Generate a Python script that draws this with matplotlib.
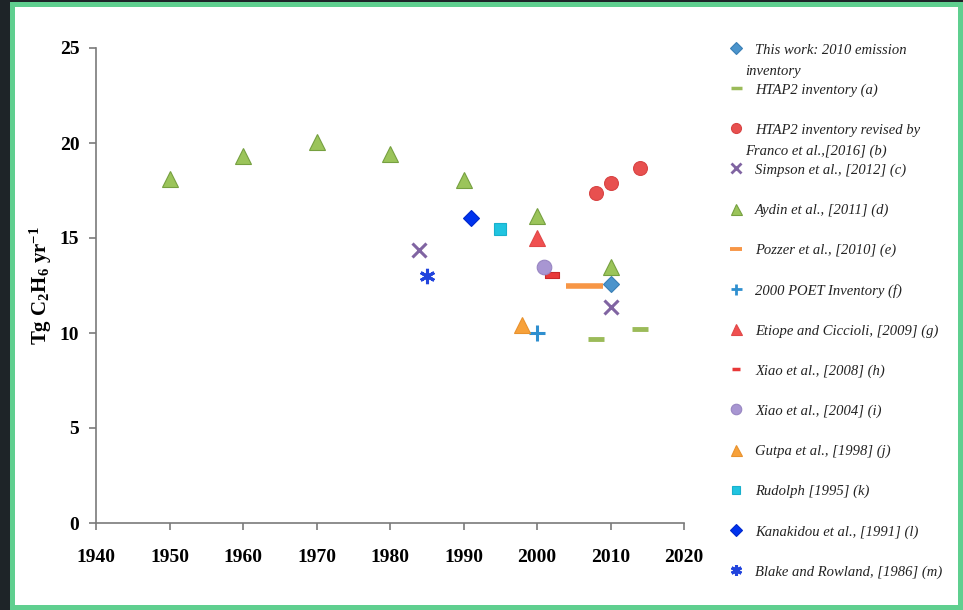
import matplotlib
matplotlib.use("Agg")
import matplotlib.pyplot as plt
from matplotlib.patches import Rectangle

plt.rcParams["font.family"] = "Liberation Serif"
plt.rcParams["mathtext.default"] = "regular"

# Ethane emission estimates, Tg C2H6 per year
aydin_yr = [1950, 1960, 1970, 1980, 1990, 2000, 2010]
aydin_val = [18.1, 19.3, 20.05, 19.4, 18.05, 16.15, 13.5]
htap2_yr = [2008, 2014]
htap2_val = [9.7, 10.2]
franco_yr = [2008, 2010, 2014]
franco_val = [17.35, 17.9, 18.7]
simpson_yr = [1984, 2010]
simpson_val = [14.35, 11.35]
pozzer_yr = [2004, 2009]
pozzer_val = [12.5, 12.5]
poet_yr = [2000]
poet_val = [10.0]
etiope_yr = [2000]
etiope_val = [15.0]
xiao08_yr = [2002]
xiao08_val = [13.05]
xiao04_yr = [2001]
xiao04_val = [13.5]
gupta_yr = [1998]
gupta_val = [10.4]
rudolph_yr = [1995]
rudolph_val = [15.5]
kanakidou_yr = [1991]
kanakidou_val = [16.05]
blake_yr = [1985]
blake_val = [13.0]
thiswork_yr = [2010]
thiswork_val = [12.6]

labels = [
    "This work: 2010 emission\ninventory",
    "HTAP2 inventory (a)",
    "HTAP2 inventory revised by\nFranco et al.,[2016] (b)",
    "Simpson et al., [2012] (c)",
    "Aydin et al., [2011] (d)",
    "Pozzer et al., [2010] (e)",
    "2000 POET Inventory (f)",
    "Etiope and Ciccioli, [2009] (g)",
    "Xiao et al., [2008] (h)",
    "Xiao et al., [2004] (i)",
    "Gutpa et al., [1998] (j)",
    "Rudolph [1995] (k)",
    "Kanakidou et al., [1991] (l)",
    "Blake and Rowland, [1986] (m)",
]

W, H = 963, 610
fig = plt.figure(figsize=(W / 100, H / 100), dpi=100)
fig.patch.set_facecolor("#1e2428")

# green card frame with white inside
fig.patches.append(Rectangle((10 / W, 0), 953 / W, 608 / H, transform=fig.transFigure,
                             facecolor="#5fcf8f", edgecolor="none", zorder=-10))
fig.patches.append(Rectangle((15 / W, 5 / H), 943 / W, 598 / H, transform=fig.transFigure,
                             facecolor="white", edgecolor="none", zorder=-9))

ax = fig.add_axes([96 / W, 1 - 523 / H, 588 / W, 475 / H])
ax.set_facecolor("none")

# flat bar marker used for Xiao 2008
bar = [(-1, -0.5), (1, -0.5), (1, 0.5), (-1, 0.5), (-1, -0.5)]

series = [
    (thiswork_yr, thiswork_val, dict(marker="D", ms=8.5, mfc="#4b94cc", mec="#3a7fb5", mew=0.8, ls="none")),
    (htap2_yr, htap2_val, dict(marker="_", ms=11, mec="#9bbb59", mew=3.5, ls="none")),
    (franco_yr, franco_val, dict(marker="o", ms=10, mfc="#e8504f", mec="#d84444", mew=0.8, ls="none")),
    (simpson_yr, simpson_val, dict(marker="x", ms=10, mec="#8064a2", mew=2.2, ls="none")),
    (aydin_yr, aydin_val, dict(marker="^", ms=11, mfc="#9bc45a", mec="#76a040", mew=0.8, ls="none")),
    (pozzer_yr, pozzer_val, dict(color="#f79646", lw=4, solid_capstyle="butt")),
    (poet_yr, poet_val, dict(marker="+", ms=11, mec="#2f8fcf", mew=2.2, ls="none")),
    (etiope_yr, etiope_val, dict(marker="^", ms=11, mfc="#f05050", mec="#e04848", mew=0.8, ls="none")),
    (xiao08_yr, xiao08_val, dict(marker=bar, ms=10, mfc="#e83838", mec="#c82828", mew=0.8, ls="none")),
    (xiao04_yr, xiao04_val, dict(marker="o", ms=10.5, mfc="#a896d2", mec="#9886c2", mew=0.8, ls="none")),
    (gupta_yr, gupta_val, dict(marker="^", ms=11, mfc="#f7a13a", mec="#e8922e", mew=0.8, ls="none")),
    (rudolph_yr, rudolph_val, dict(marker="s", ms=8, mfc="#20c4e0", mec="#18b0cc", mew=0.8, ls="none")),
    (kanakidou_yr, kanakidou_val, dict(marker="D", ms=8.5, mfc="#0033ee", mec="#0028cc", mew=0.8, ls="none")),
    (blake_yr, blake_val, dict(marker=(6, 2, 0), ms=11, mec="#2244dd", mew=2.2, ls="none")),
]

for yr, val, kw in series:
    ax.plot(yr, val, clip_on=False, zorder=3, **kw)

ax.set_xlim(1940, 2020)
ax.set_ylim(0, 25)
ax.set_xticks(range(1940, 2021, 10))
ax.set_yticks(range(0, 26, 5))
for s in ["top", "right"]:
    ax.spines[s].set_visible(False)
for s in ["left", "bottom"]:
    ax.spines[s].set_color("#7a7a7a")
    ax.spines[s].set_linewidth(1.2)
ax.tick_params(direction="out", length=5, width=1.2, color="#7a7a7a", labelsize=14)
ax.tick_params(axis="x", pad=14)
ax.tick_params(axis="y", pad=7)
for t in ax.get_xticklabels() + ax.get_yticklabels():
    t.set_fontweight("bold")
ax.set_ylabel(r"Tg C$_2$H$_6$ yr$^{-1}$", fontsize=15, fontweight="bold", labelpad=4)

# legend drawn in pixel-like coordinates on its own axes
lax = fig.add_axes([720 / W, 1 - 595 / H, 236 / W, 565 / H])
lax.set_xlim(720, 956)
lax.set_ylim(595, 30)
lax.axis("off")
for i, (label, (yr, val, kw)) in enumerate(zip(labels, series)):
    y = 50 + 40.15 * i
    if "marker" in kw:
        lkw = dict(kw)
        lkw["ms"] = kw["ms"] * 0.72
        if kw["marker"] in ("x", "+"):
            lkw["mew"] = 2.0
        if kw["marker"] == "_":
            lkw["mew"] = 2.5
        if i == 8:
            lkw.update(marker="_", mec="#e83838", mew=2.5, ms=5.5)
    else:
        lkw = dict(marker="_", ms=8, mec=kw["color"], mew=2.8, ls="none")
    lax.plot([736], [y - 2], **lkw)
    first, *rest = label.split("\n")
    lax.text(755, y, first, fontsize=10.5, style="italic", va="center", ha="left", color="#222222")
    if rest:
        lax.text(745, y + 21, rest[0], fontsize=10.5, style="italic", va="center", ha="left",
                 color="#222222")

fig.savefig("out.png", dpi=100, facecolor=fig.get_facecolor())
